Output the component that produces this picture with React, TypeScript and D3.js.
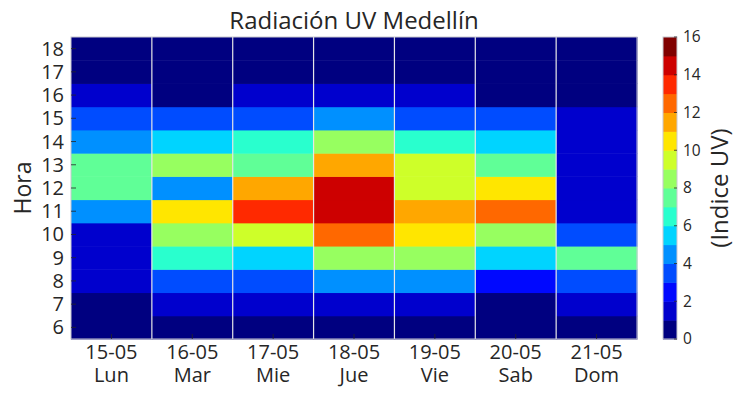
import * as d3 from 'd3'

// dates and weekday names
const days = ['15-05', '16-05', '17-05', '18-05', '19-05', '20-05', '21-05']
const dayNames = ['Lun', 'Mar', 'Mie', 'Jue', 'Vie', 'Sab', 'Dom']
const hours = [6, 7, 8, 9, 10, 11, 12, 13, 14, 15, 16, 17, 18]

// UV index per hour (6h .. 18h) for each day
const lun = [0, 0, 1, 1, 1, 4, 7, 7, 4, 3, 1, 0, 0]
const mar = [0, 1, 3, 6, 8, 10, 4, 8, 5, 3, 0, 0, 0]
const mie = [0, 1, 3, 5, 9, 13, 11, 7, 6, 3, 1, 0, 0]
const jue = [0, 1, 4, 8, 12, 14, 14, 11, 8, 4, 1, 0, 0]
const vie = [0, 1, 4, 8, 10, 11, 9, 9, 6, 3, 1, 0, 0]
const sab = [0, 0, 2, 5, 8, 12, 10, 7, 5, 3, 0, 0, 0]
const dom = [0, 1, 3, 7, 3, 1, 1, 1, 1, 1, 0, 0, 0]
const uvByDay = [lun, mar, mie, jue, vie, sab, dom]

const cbarTicks = [0, 2, 4, 6, 8, 10, 12, 14, 16]

// jet colormap in 16 steps
const uvColors = [
  '#000080', '#0000cd', '#0008ff', '#004cff', '#0090ff', '#00d4ff',
  '#29ffce', '#60ff97', '#97ff60', '#ceff29', '#ffe600', '#ffa700',
  '#ff6800', '#ff2900', '#cd0000', '#800000',
]

const W = 743
const H = 395
const m = { left: 71, right: 637, top: 37, bottom: 339 }
const cb = { x: 663, w: 14 }
const font = '"Open Sans", sans-serif'
const ink = '#262626'

export default function App() {
  const x = d3.scaleBand<string>().domain(days).range([m.left, m.right])
  const y = d3.scaleBand<number>().domain([...hours].reverse()).range([m.top, m.bottom])
  const color = d3.scaleThreshold<number, string>()
    .domain(d3.range(1, 16))
    .range(uvColors)
  const cy = d3.scaleLinear().domain([0, 16]).range([m.bottom, m.top])

  const cells = uvByDay.flatMap((vals, i) =>
    vals.map((v, j) => ({ day: days[i], hour: hours[j], v }))
  )

  return (
    <div style={{ position: 'absolute', left: 0, top: 0 }}>
      <svg width={W} height={H} style={{ display: 'block', fontFamily: font }}>
        <rect width={W} height={H} fill="white" />
        <text x={(m.left + m.right) / 2} y={29} textAnchor="middle" fontSize={24} fill={ink}>
          Radiación UV Medellín
        </text>

        {cells.map((c, i) => (
          <rect
            key={i}
            x={x(c.day)}
            y={y(c.hour)}
            width={x.bandwidth() + 0.5}
            height={y.bandwidth() + 0.5}
            fill={color(c.v)}
          />
        ))}

        {/* light separators between days */}
        {days.slice(1).map(d => (
          <line key={d} x1={x(d)} x2={x(d)} y1={m.top} y2={m.bottom} stroke="#e6e6e6" strokeWidth={1.2} />
        ))}

        <rect x={m.left} y={m.top} width={m.right - m.left} height={m.bottom - m.top}
          fill="none" stroke="#c8c8d0" strokeWidth={1} />

        {hours.map(h => {
          const yy = (y(h) ?? 0) + y.bandwidth() / 2
          return (
            <g key={h}>
              <line x1={m.left} x2={m.left + 5} y1={yy} y2={yy} stroke={ink} strokeWidth={0.8} />
              <text x={64} y={yy} dy="0.35em" textAnchor="end" fontSize={20} fill={ink}>{h}</text>
            </g>
          )
        })}

        {days.map((d, i) => {
          const xx = (x(d) ?? 0) + x.bandwidth() / 2
          return (
            <g key={d}>
              <line x1={xx} x2={xx} y1={m.bottom} y2={m.bottom - 5} stroke={ink} strokeWidth={0.8} />
              <text y={359} textAnchor="middle" fontSize={20} fill={ink}>
                <tspan x={xx}>{d}</tspan>
                <tspan x={xx} dy={22.5}>{dayNames[i]}</tspan>
              </text>
            </g>
          )
        })}

        <text transform={`translate(31,${(m.top + m.bottom) / 2}) rotate(-90)`} textAnchor="middle"
          fontSize={23} fill={ink}>Hora</text>

        {/* colorbar */}
        {uvColors.map((c, i) => (
          <rect key={c} x={cb.x} y={cy(i + 1)} width={cb.w} height={cy(i) - cy(i + 1) + 0.5} fill={c} />
        ))}
        <rect x={cb.x} y={m.top} width={cb.w} height={m.bottom - m.top} fill="none" stroke="#c8c8d0" strokeWidth={1} />
        {cbarTicks.map(t => (
          <g key={t}>
            <line x1={cb.x + cb.w} x2={cb.x + cb.w - 3} y1={cy(t)} y2={cy(t)} stroke={ink} strokeWidth={0.8} />
            <text x={683} y={cy(t)} dy="0.35em" fontSize={15.5} fill={ink}>{t}</text>
          </g>
        ))}
        <text transform={`translate(728,${(m.top + m.bottom) / 2}) rotate(-90)`} textAnchor="middle"
          fontSize={24} fill={ink}>(Indice UV)</text>
      </svg>
    </div>
  )
}
